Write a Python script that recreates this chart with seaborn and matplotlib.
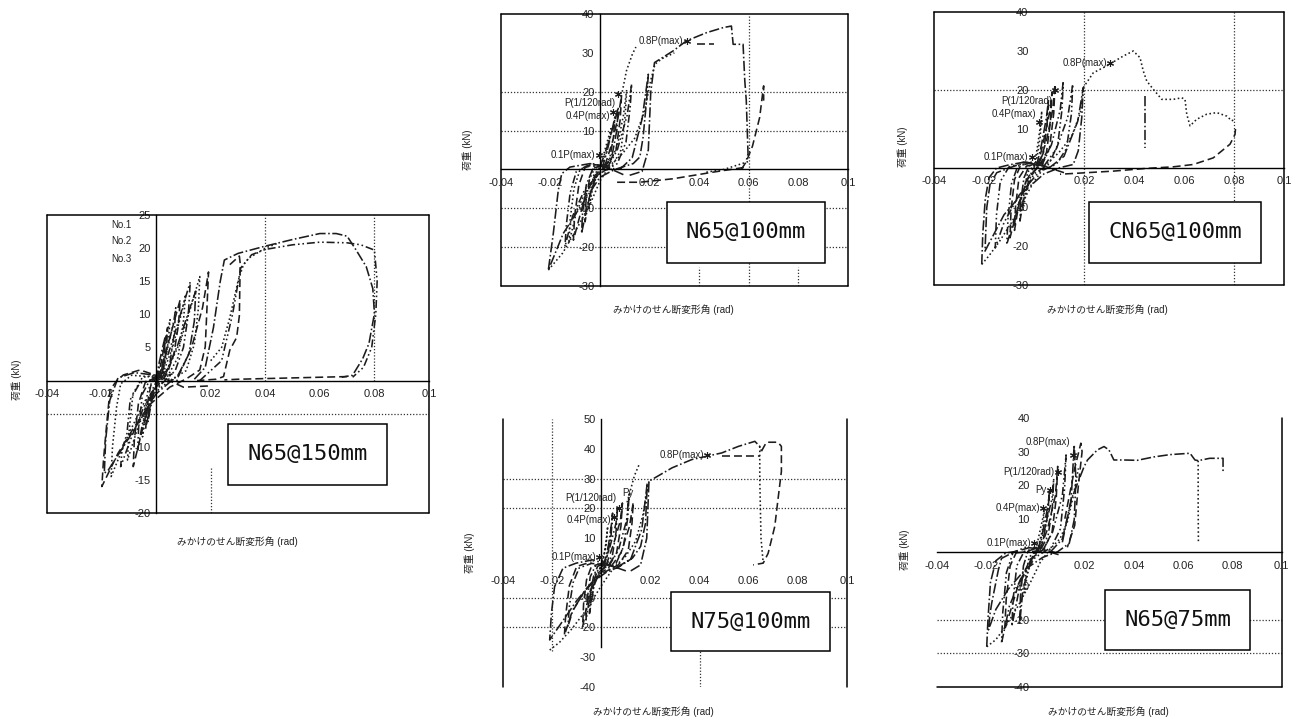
import matplotlib
matplotlib.use("Agg")
import matplotlib.pyplot as plt
from matplotlib.patches import Rectangle
from matplotlib.lines import Line2D
import seaborn as sns

sns.set_style("white")
plt.rcParams["font.family"] = ["Liberation Sans", "Noto Sans CJK JP"]

# ---------------- data: hysteresis curves (shear angle rad, load kN) ----------------
# N65@150mm
N150_X = [
    [0, 0.001, 0.0025, 0.0033, 0.003, 0.002, 0.0, -0.0015, -0.0025, -0.003, -0.0025, -0.001, 0.001],
    [0, 0.002, 0.004, 0.0051, 0.0045, 0.003, 0.001, -0.002, -0.004, -0.005, -0.0045, -0.003, -0.001, 0.001, 0.003],
    [0.001, 0.004, 0.007, 0.0088, 0.0082, 0.0065, 0.004, 0.0, -0.003, -0.006, -0.0084, -0.008, -0.0065, -0.004, 0.0, 0.004],
    [0.002, 0.006, 0.010, 0.0125, 0.0118, 0.010, 0.007, 0.002, -0.004, -0.009, -0.013, -0.0125, -0.0107, -0.0095, -0.006, 0.0, 0.006],
    [0.004, 0.009, 0.013, 0.016, 0.0155, 0.014, 0.011, 0.005, -0.004, -0.010, -0.0165, -0.016, -0.0145, -0.013, -0.009, 0.0, 0.008],
    [0.008, 0.013, 0.017, 0.0192, 0.0186, 0.018, 0.016, 0.0112, 0.005, -0.002, -0.008, -0.014, -0.0199, -0.0193, -0.018, -0.0169, -0.0144, -0.012, -0.0059, 0.002, 0.01, 0.02],
    [0.003, 0.008, 0.012, 0.0145, 0.014, 0.012, 0.008, 0.0, -0.006, -0.012, -0.0175, -0.019, -0.0185, -0.017, -0.014, -0.008, 0.0],
    [0.0005, 0.002, 0.0035, 0.0042, 0.0038, 0.0025, 0.0005, -0.0015, -0.003, -0.0038, -0.0034, -0.002, 0.0],
    [0.001, 0.004, 0.0065, 0.0072, 0.0066, 0.005, 0.002, -0.002, -0.005, -0.0068, -0.0064, -0.005, -0.002, 0.001],
    [0.002, 0.006, 0.0095, 0.0108, 0.010, 0.008, 0.004, -0.002, -0.007, -0.0105, -0.010, -0.0085, -0.005, 0.0],
    [0.016, 0.024, 0.028, 0.031, 0.035, 0.04, 0.05, 0.06, 0.07, 0.075, 0.080, 0.081, 0.0805, 0.079, 0.076, 0.072],
    [0.014, 0.018, 0.021, 0.0235, 0.025, 0.03, 0.04, 0.05, 0.06, 0.066, 0.07, 0.0733, 0.077, 0.0794, 0.080, 0.078, 0.0757, 0.072, 0.068],
    [0.02, 0.024, 0.027, 0.03, 0.032, 0.034, 0.04, 0.045],
    [0.027, 0.0305, 0.0308, 0.0305, 0.0295, 0.027, 0.0247, 0.022, 0.015],
    [0.07, 0.06, 0.05, 0.04, 0.03, 0.025],
]
N150_Y = [
    [0, 2.5, 5.2, 6.6, 4.0, 1.5, -0.5, -3.0, -5.0, -6.2, -3.5, -1.0, 0.5],
    [0, 3.5, 7.0, 9.2, 6.0, 2.5, 0.3, -2.5, -6.0, -8.5, -5.5, -1.5, 0.2, 0.0, 1.5],
    [0.5, 5.0, 9.5, 12.2, 8.5, 4.0, 1.0, -1.0, -4.0, -9.0, -13.0, -9.0, -3.5, -0.3, 0.5, 1.5],
    [1.0, 6.0, 11.5, 14.9, 10.0, 5.0, 1.5, -0.5, -3.5, -8.5, -13.0, -10.5, -8.0, -2.9, -0.4, 0.3, 1.0],
    [1.5, 6.0, 11.5, 15.7, 11.0, 5.5, 1.5, 0.0, -3.0, -8.0, -14.5, -10.0, -4.0, -0.5, 0.8, 0.5, 0.0],
    [0.5, 5.0, 11.0, 16.4, 10.7, 5.1, 1.6, 0.3, -1.0, -3.5, -7.0, -11.0, -16.0, -12.0, -6.0, -1.4, 0.0, 0.85, 1.6, 0.5, -1.0, -0.8],
    [0.5, 5.5, 10.5, 13.5, 9.0, 4.0, 0.8, -2.0, -6.0, -10.0, -13.5, -14.0, -9.0, -3.0, 0.4, 1.2, 0.8],
    [0.3, 3.0, 6.5, 8.0, 5.0, 1.5, -0.3, -2.5, -5.5, -7.2, -4.0, -0.8, 0.4],
    [0.5, 4.5, 9.0, 11.0, 7.0, 2.5, 0.3, -2.0, -6.5, -10.5, -7.0, -2.0, 0.3, 0.8],
    [0.5, 5.0, 10.5, 13.0, 9.0, 3.5, 0.5, -2.0, -7.5, -12.0, -8.0, -2.0, 0.5, 0.8],
    [0.0, 3.0, 10.0, 17.0, 19.0, 19.8, 20.5, 20.9, 20.8, 20.5, 19.7, 15.0, 10.0, 5.0, 2.0, 0.5],
    [0.2, 2.0, 8.0, 15.0, 18.2, 19.2, 20.3, 21.3, 22.2, 22.2, 21.8, 19.7, 17.2, 13.9, 10.1, 5.6, 3.3, 0.8, 0.5],
    [3.0, 5.0, 9.5, 15.0, 17.5, 18.5, 20.0, 20.8],
    [17.5, 18.8, 17.7, 9.8, 6.5, 4.6, 0.6, 0.2, 0.0],
    [0.6, 0.5, 0.4, 0.3, 0.2, 0.1],
]
N150_LS = ["dd", "do", "da", "ddd", "do", "da", "dd", "da", "ddd", "do",
           "ddd", "dd", "do", "da", "da"]

# N65@100mm
N100_X = [
    [0, 0.002, 0.004, 0.0045, 0.003, 0.001, -0.001, -0.003, -0.0045, -0.004, -0.0025, 0.0, 0.002],
    [0.0, 0.003, 0.006, 0.0074, 0.0068, 0.005, 0.002, -0.002, -0.005, -0.0074, -0.007, -0.0055, -0.003, 0.001, 0.004],
    [0.002, 0.005, 0.0075, 0.0087, 0.0082, 0.0065, 0.003, -0.002, -0.006, -0.0107, -0.0102, -0.0085, -0.006, -0.002, 0.003],
    [0.003, 0.007, 0.011, 0.0128, 0.0122, 0.0105, 0.007, 0.0, -0.006, -0.011, -0.0141, -0.0135, -0.012, -0.0095, -0.005, 0.002, 0.008],
    [0.008, 0.013, 0.017, 0.0195, 0.0188, 0.0174, 0.0161, 0.0134, 0.006, 0.0, -0.008, -0.0148, -0.0208, -0.0188, -0.0168, -0.0154, -0.0121, -0.004, 0.003, 0.01],
    [-0.0208, -0.015, -0.01, -0.004, 0.0, 0.004, 0.009, 0.014, 0.018, 0.0205, 0.0222, 0.025, 0.03],
    [0.001, 0.003, 0.0052, 0.006, 0.0055, 0.004, 0.0015, -0.002, -0.0045, -0.006, -0.0056, -0.0042, -0.002, 0.001],
    [0.003, 0.007, 0.0095, 0.0108, 0.0102, 0.0085, 0.005, -0.001, -0.006, -0.0095, -0.0125, -0.012, -0.0105, -0.008, -0.003, 0.003],
    [0.012, 0.017, 0.0195, 0.0205, 0.022, 0.0295, 0.0349, 0.043, 0.0497, 0.053, 0.0537, 0.0577, 0.0584, 0.059, 0.0597, 0.059],
    [0.057, 0.059, 0.0615, 0.0644, 0.0658, 0.066, 0.066],
    [0.058, 0.0456, 0.0295, 0.016, 0.0054],
    [0.0597, 0.05, 0.042],
    [0.009, 0.0107, 0.0131, 0.0145],
    [0.039, 0.046],
]
N100_Y = [
    [0, 5, 9.5, 10.5, 5, 1.5, -1, -5, -10.5, -6, -1.5, 0.5, 1],
    [0.5, 6.0, 12.5, 16.0, 10.0, 4.0, 0.5, -2.0, -9.0, -16.5, -11.0, -4.0, 0.0, 1.0, 2.0],
    [1.0, 7.0, 14.0, 19.0, 13.0, 5.0, 1.0, -1.5, -7.0, -18.2, -12.0, -4.0, 0.5, 1.2, 1.0],
    [0.5, 5.0, 14.0, 22.0, 16.0, 7.0, 1.5, -1.0, -5.0, -12.0, -19.9, -14.0, -6.0, -0.5, 1.0, 0.5, 0.0],
    [0.0, 3.0, 13.0, 24.5, 17.7, 8.3, 3.2, 1.5, 0.0, -2.0, -9.7, -16.5, -25.9, -16.5, -5.4, -1.1, 0.6, 1.5, 0.5, -1.5],
    [-25.9, -21.5, -16.0, -9.0, -3.0, 1.0, 4.0, 8.0, 15.0, 23.0, 27.1, 28.5, 30.0],
    [0.5, 5.0, 11.0, 13.5, 8.5, 3.0, 0.5, -2.5, -8.0, -13.5, -8.0, -2.5, 0.5, 1.0],
    [0.5, 6.0, 14.0, 20.5, 14.0, 5.0, 1.0, -1.5, -6.0, -11.0, -19.0, -13.0, -5.0, 0.0, 1.5, 0.5],
    [-1.5, -0.5, 5.0, 20.0, 27.5, 30.5, 33.1, 35.2, 36.5, 36.9, 32.2, 32.2, 22.8, 17.7, 4.0, 2.3],
    [0.0, 2.0, 6.0, 13.4, 20.7, 21.5, 17.7],
    [0.5, -0.7, -2.4, -3.3, -3.3],
    [2.0, 0.0, -0.8],
    [20.0, 25.4, 29.7, 31.5],
    [32.2, 32.2],
]
N100_LS = ["do", "dd", "da", "ddd", "dd", "do", "ddd", "do", "dd", "da", "da", "do", "do", "da"]

# CN65@100mm
CN100_X = [
    [0, 0.0015, 0.0028, 0.0031, 0.0025, 0.001, -0.001, -0.003, -0.0045, -0.004, -0.0025, 0.0, 0.002],
    [0.001, 0.003, 0.005, 0.0058, 0.0052, 0.0038, 0.0015, -0.002, -0.0045, -0.0056, -0.0052, -0.004, -0.002, 0.001, 0.004],
    [0.002, 0.005, 0.0075, 0.0084, 0.0079, 0.0062, 0.003, -0.002, -0.006, -0.0096, -0.0092, -0.0078, -0.0055, -0.001, 0.004],
    [0.003, 0.007, 0.0105, 0.0117, 0.0112, 0.0095, 0.006, 0.0, -0.006, -0.0109, -0.0104, -0.009, -0.0065, -0.002, 0.005],
    [0.006, 0.012, 0.0175, 0.0197, 0.0191, 0.0177, 0.0157, 0.0104, 0.004, -0.004, -0.012, -0.0196, -0.0189, -0.0176, -0.0149, -0.0096, -0.003, 0.004, 0.012],
    [-0.0209, -0.018, -0.014, -0.009, -0.004, 0.0, 0.005, 0.01, 0.015, 0.0185, 0.0197],
    [-0.0209, -0.0205, -0.0195, -0.018, -0.015, -0.01, -0.004],
    [0.0015, 0.0035, 0.0065, 0.0072, 0.0066, 0.005, 0.002, -0.003, -0.006, -0.0078, -0.0074, -0.006, -0.003, 0.001],
    [0.004, 0.009, 0.0135, 0.0155, 0.015, 0.013, 0.009, 0.002, -0.006, -0.012, -0.0155, -0.015, -0.0135, -0.01, -0.004, 0.004],
    [0.0197, 0.0237, 0.0291, 0.0357, 0.0397, 0.0424, 0.0437, 0.0451, 0.0477, 0.0511, 0.0557, 0.0591, 0.0604, 0.0611, 0.0624, 0.0651, 0.0691, 0.0731, 0.0771, 0.0791, 0.0804],
    [0.0806, 0.0804, 0.0784, 0.0717, 0.0637, 0.0557, 0.045, 0.0317, 0.0211, 0.0104],
    [0.0444, 0.0444],
]
CN100_Y = [
    [0, 6.0, 12.0, 14.6, 8.0, 2.0, -1.0, -6.0, -11.0, -6.0, -1.0, 0.5, 1.0],
    [0.5, 6.0, 13.0, 17.5, 11.0, 4.0, 0.5, -3.0, -9.0, -13.6, -8.0, -2.5, 0.5, 1.0, 1.5],
    [1.0, 7.0, 15.0, 21.5, 14.0, 5.0, 1.0, -2.0, -9.0, -17.9, -11.0, -3.0, 0.5, 1.5, 1.0],
    [0.5, 6.0, 15.0, 22.3, 15.0, 6.0, 1.0, -1.5, -9.0, -19.6, -13.0, -4.0, 0.5, 1.2, 0.5],
    [0.0, 3.0, 12.0, 20.6, 12.9, 4.4, 0.9, 0.1, -1.5, -6.0, -12.0, -21.3, -10.2, -4.2, -1.2, 0.1, 1.5, 0.5, -1.2],
    [-24.7, -22.5, -19.0, -14.0, -8.0, -3.5, 1.0, 4.0, 8.0, 14.0, 20.0],
    [-24.7, -17.0, -8.0, -2.5, 0.0, 0.8, 1.5],
    [0.5, 6.0, 15.0, 19.5, 12.0, 4.0, 0.5, -3.0, -9.0, -16.0, -10.0, -2.5, 0.5, 1.0],
    [0.5, 5.0, 13.0, 21.5, 14.0, 5.0, 1.0, -1.0, -7.0, -14.0, -20.5, -12.0, -3.5, 0.3, 1.5, 0.5],
    [20.6, 24.4, 26.2, 28.7, 30.0, 28.3, 24.9, 22.3, 20.2, 17.6, 17.6, 18.0, 17.6, 13.8, 10.8, 12.5, 13.8, 14.2, 13.3, 12.1, 12.5],
    [10.0, 8.6, 6.1, 2.6, 0.9, 0.3, -0.1, -0.8, -1.2, -1.6],
    [18.5, 5.2],
]
CN100_LS = ["do", "dd", "da", "ddd", "dd", "do", "dd", "da", "ddd", "do", "da", "dd"]

# N75@100mm
N75_X = [
    [0, 0.0015, 0.0024, 0.0026, 0.002, 0.0005, -0.001, -0.003, -0.0045, -0.004, -0.0025, 0.0, 0.002],
    [0.001, 0.003, 0.0042, 0.0046, 0.004, 0.0025, 0.0, -0.003, -0.0048, -0.0045, -0.0032, -0.0015, 0.001, 0.003],
    [0.002, 0.005, 0.0078, 0.0086, 0.008, 0.0062, 0.003, -0.002, -0.005, -0.0076, -0.0072, -0.006, -0.004, 0.0, 0.004],
    [0.003, 0.007, 0.0103, 0.0113, 0.0108, 0.009, 0.006, 0.0, -0.006, -0.0115, -0.0136, -0.013, -0.0115, -0.009, -0.004, 0.002, 0.007],
    [0.006, 0.012, 0.0165, 0.0187, 0.018, 0.016, 0.0127, 0.0073, 0.002, -0.004, -0.01, -0.015, -0.021, -0.0203, -0.019, -0.0156, -0.0102, -0.0035, 0.003, 0.01],
    [-0.021, -0.017, -0.012, -0.006, 0.0, 0.005, 0.01, 0.014, 0.017, 0.0194],
    [0.004, 0.008, 0.0115, 0.013, 0.0125, 0.011, 0.007, 0.0, -0.007, -0.012, -0.015, -0.0145, -0.013, -0.01, -0.004],
    [0.001, 0.0035, 0.006, 0.0066, 0.006, 0.0045, 0.0015, -0.002, -0.0045, -0.0062, -0.0058, -0.0045, -0.0025, 0.001],
    [0.012, 0.016, 0.0185, 0.0194, 0.0288, 0.0369, 0.049, 0.0558, 0.0625, 0.0645, 0.0652],
    [0.0645, 0.0645, 0.065, 0.0659],
    [0.0652, 0.0672, 0.0719, 0.0733, 0.0733, 0.0719, 0.0706, 0.0679, 0.0659, 0.0618],
    [0.049, 0.0645],
    [0.0105, 0.0135, 0.0154],
]
N75_Y = [
    [-1.0, 6.0, 12.0, 13.9, 8.0, 2.0, -1.0, -6.0, -12.0, -7.0, -2.0, 0.5, 1.0],
    [0.5, 8.0, 15.0, 18.4, 11.0, 4.0, 0.0, -6.0, -15.3, -9.0, -3.0, 0.5, 1.5, 1.0],
    [1.0, 8.0, 16.0, 21.8, 14.0, 5.0, 1.0, -2.0, -9.0, -19.8, -12.0, -4.0, 0.5, 1.5, 1.0],
    [0.5, 6.0, 16.0, 24.6, 17.0, 7.0, 1.5, -1.5, -7.0, -14.0, -19.8, -13.0, -5.0, 0.0, 1.5, 1.0, 0.0],
    [0.0, 3.0, 13.0, 28.5, 15.0, 7.2, 3.3, 0.4, -1.5, -5.0, -11.0, -17.0, -24.2, -15.3, -6.3, -0.1, 1.6, 2.7, 1.0, -1.0],
    [-27.6, -25.0, -20.5, -14.0, -6.0, 0.0, 4.0, 9.0, 18.0, 29.1],
    [0.5, 5.0, 14.0, 22.0, 15.0, 6.0, 1.0, -2.0, -8.0, -15.0, -22.6, -16.0, -6.0, 0.5, 2.0],
    [0.5, 7.0, 15.0, 20.0, 12.0, 4.0, 0.5, -3.0, -9.0, -17.5, -11.0, -3.0, 0.5, 1.2],
    [-1.0, 1.0, 10.0, 29.1, 33.6, 36.4, 38.6, 40.8, 42.5, 40.8, 39.2],
    [40.8, 30.0, 10.0, 1.6],
    [39.2, 42.2, 42.2, 40.8, 32.4, 22.9, 13.9, 4.9, 1.6, 1.0],
    [37.5, 37.5],
    [22.0, 31.0, 34.7],
]
N75_LS = ["do", "dd", "da", "ddd", "dd", "do", "da", "ddd", "dd", "do", "da", "da", "do"]

# N65@75mm
N75MM_X = [
    [0, 0.0015, 0.0033, 0.0037, 0.003, 0.0012, -0.001, -0.003, -0.0045, -0.004, -0.0025, 0.0, 0.002],
    [0.001, 0.003, 0.0052, 0.0058, 0.005, 0.0033, 0.001, -0.002, -0.005, -0.0063, -0.006, -0.0048, -0.003, 0.0, 0.003],
    [0.002, 0.005, 0.0082, 0.0091, 0.0085, 0.0068, 0.0035, -0.002, -0.007, -0.0124, -0.0118, -0.0102, -0.0075, -0.002, 0.004],
    [0.003, 0.007, 0.011, 0.0125, 0.0119, 0.0102, 0.0065, 0.0, -0.006, -0.0105, -0.0137, -0.0132, -0.0117, -0.009, -0.004, 0.002, 0.008],
    [0.006, 0.011, 0.0145, 0.0158, 0.0165, 0.0158, 0.0138, 0.0091, 0.003, -0.004, -0.011, -0.016, -0.019, -0.0185, -0.0177, -0.015, -0.0137, -0.0097, -0.003, 0.004, 0.01],
    [-0.0197, -0.016, -0.012, -0.007, -0.002, 0.002, 0.006, 0.01, 0.013, 0.0155, 0.0175],
    [0.001, 0.0035, 0.0068, 0.0075, 0.0069, 0.0052, 0.002, -0.002, -0.006, -0.0095, -0.009, -0.0075, -0.0045, 0.0],
    [0.011, 0.0145, 0.0198, 0.0212, 0.0252, 0.0279, 0.0299, 0.0319, 0.036, 0.0414, 0.048, 0.0547, 0.0628, 0.0648, 0.0661, 0.0708, 0.0762, 0.0762],
    [0.0661, 0.0661, 0.0662],
    [0.012, 0.016, 0.0185, 0.019, 0.0175, 0.016, 0.013],
    [-0.0197, -0.0192, -0.0182, -0.016, -0.012, -0.006],
]
N75MM_Y = [
    [0, 5.0, 11.0, 12.6, 7.0, 1.5, -1.0, -6.0, -12.0, -7.0, -1.5, 0.5, 1.0],
    [0.5, 6.0, 14.0, 18.6, 11.0, 4.0, 0.5, -3.0, -11.0, -21.1, -13.0, -4.0, 0.3, 1.2, 1.0],
    [1.0, 7.0, 17.0, 25.6, 16.0, 6.0, 1.0, -2.0, -10.0, -23.1, -14.0, -4.0, 0.3, 1.5, 1.0],
    [0.5, 6.0, 17.0, 29.0, 19.0, 7.0, 1.5, -1.5, -8.0, -16.0, -27.1, -18.0, -6.0, 0.0, 1.5, 1.0, 0.0],
    [0.0, 4.0, 15.0, 32.0, 21.6, 9.7, 2.7, 0.2, -1.5, -5.0, -11.0, -17.0, -23.1, -19.0, -15.2, -5.3, -1.8, -0.3, 0.2, 0.5, -0.8],
    [-28.1, -26.0, -22.0, -16.0, -9.0, -3.0, 1.0, 4.0, 9.0, 17.0, 25.0],
    [0.5, 6.0, 16.0, 22.0, 13.0, 5.0, 0.5, -2.5, -9.0, -22.0, -14.0, -4.0, 0.3, 1.2],
    [3.0, 15.6, 25.5, 27.5, 30.5, 31.5, 30.5, 27.5, 27.5, 27.4, 28.4, 29.1, 29.5, 27.5, 27.3, 28.0, 28.0, 24.2],
    [27.3, 14.0, 2.7],
    [10.0, 25.0, 32.5, 30.0, 20.0, 8.0, 1.5],
    [-28.1, -20.0, -9.0, -2.5, -0.2, 0.5],
]
N75MM_LS = ["do", "dd", "da", "ddd", "dd", "do", "ddd", "dd", "do", "da", "dd"]

# load level marks: label, mark position, label height
N100_MARK_TXT = ["0.8P(max)", "P(1/120rad)", "0.4P(max)", "0.1P(max)"]
N100_MARK_X = [0.0349, 0.0074, 0.0054, -0.0005]
N100_MARK_Y = [33.1, 19.4, 14.9, 3.6]
N100_TXT_Y = [33.1, 17.2, 13.8, 3.6]
CN100_MARK_TXT = ["0.8P(max)", "P(1/120rad)", "0.4P(max)", "0.1P(max)"]
CN100_MARK_X = [0.0305, 0.0085, 0.002, -0.001]
CN100_MARK_Y = [26.8, 20.0, 11.9, 2.8]
CN100_TXT_Y = [26.8, 17.2, 13.8, 2.8]
N75_MARK_TXT = ["0.8P(max)", "P(1/120rad)", "0.4P(max)", "0.1P(max)"]
N75_MARK_X = [0.043, 0.0073, 0.0053, -0.001]
N75_MARK_Y = [37.8, 20.1, 17.0, 3.8]
N75_TXT_Y = [37.8, 23.6, 16.2, 3.8]
N75MM_MARK_TXT = ["0.8P(max)", "P(1/120rad)", "Py", "0.4P(max)", "0.1P(max)"]
N75MM_MARK_X = [0.0152, 0.0091, 0.0058, 0.0031, -0.0005]
N75MM_MARK_Y = [29.0, 24.0, 18.6, 13.1, 2.7]
N75MM_TXT_Y = [33.0, 24.0, 18.6, 13.1, 2.7]

X_TICKS = [-0.04, -0.02, 0.02, 0.04, 0.06, 0.08, 0.1]
X_TICK_LABELS = ["-0.04", "-0.02", "0.02", "0.04", "0.06", "0.08", "0.1"]

XLABEL = "みかけのせん断変形角 (rad)"
YLABEL = "荷重 (kN)"

LINESTYLES = {
    "dd": "-.",
    "da": (0, (5, 2.5)),
    "do": (0, (1, 1.6)),
    "ddd": (0, (5, 1.8, 1, 1.8, 1, 1.8)),
}
INK = "#1c1c1c"

fig = plt.figure(figsize=(12.99, 7.2), dpi=100)
W, H = 1299.0, 720.0


def px_axes(x0, y0, x1, y1):
    return fig.add_axes([x0 / W, 1 - y1 / H, (x1 - x0) / W, (y1 - y0) / H])


def setup(ax, ylim, yticks, frame, xaxis=True, yaxis=True, ybounds=None):
    ax.set_xlim(-0.04, 0.1)
    ax.set_ylim(*ylim)
    ax.set_facecolor("none")
    for s in ("top", "right"):
        ax.spines[s].set_visible(False)
    ax.spines["left"].set_position(("data", 0))
    ax.spines["bottom"].set_position(("data", 0))
    for s in ("left", "bottom"):
        ax.spines[s].set_linewidth(1.0)
        ax.spines[s].set_color("black")
        ax.spines[s].set_zorder(4)
    ax.spines["bottom"].set_visible(xaxis)
    ax.spines["left"].set_visible(yaxis)
    if ybounds is not None:
        ax.spines["left"].set_bounds(*ybounds)
    ax.set_xticks(X_TICKS)
    ax.set_xticklabels(X_TICK_LABELS)
    ax.set_yticks(yticks)
    ax.set_yticklabels([str(v) for v in yticks])
    ax.tick_params(axis="x", length=0, pad=6, labelsize=8, colors="#222")
    ax.tick_params(axis="y", length=2.5, width=0.8, pad=1.5, labelsize=8, colors="#222")
    ax.set_xlabel("")
    ax.set_ylabel("")
    edges = {
        "L": ([0, 0], [0, 1]),
        "R": ([1, 1], [0, 1]),
        "T": ([0, 1], [1, 1]),
        "B": ([0, 1], [0, 0]),
    }
    for e in frame:
        xs, ys = edges[e]
        ax.add_line(Line2D(xs, ys, transform=ax.transAxes, color="black",
                           lw=1.1, clip_on=False, zorder=4))


def draw_curves(ax, xs_list, ys_list, styles):
    for xs, ys, st in zip(xs_list, ys_list, styles):
        sns.lineplot(x=xs, y=ys, sort=False, estimator=None, ax=ax,
                     color=INK, lw=1.15, linestyle=LINESTYLES[st], zorder=3)
    ax.set_xlabel("")
    ax.set_ylabel("")


def grid(ax, hlines=(), vlines=()):
    for y, x0, x1 in hlines:
        ax.hlines(y, x0, x1, colors="#333", linestyles=(0, (1, 1.5)), lw=0.9, zorder=1)
    for x, y0, y1 in vlines:
        ax.vlines(x, y0, y1, colors="#333", linestyles=(0, (1, 1.5)), lw=0.9, zorder=1)


def marks(ax, txts, xs, ys, tys):
    ax.plot(xs, ys, ls="none", marker=(6, 2, 0), ms=5, mew=0.8, color=INK, zorder=6)
    for t, x, ty in zip(txts, xs, tys):
        ax.text(x - 0.0012, ty, t, ha="right", va="center", fontsize=7, color="#222", zorder=6)


def label_box(ax, x0, y0, x1, y1, text):
    ax.add_patch(Rectangle((x0, y0), x1 - x0, y1 - y0, transform=ax.transAxes,
                           facecolor="white", edgecolor="black", lw=1.1, zorder=7))
    ax.text((x0 + x1) / 2, (y0 + y1) / 2, text, transform=ax.transAxes,
            ha="center", va="center", fontsize=16, family="DejaVu Sans Mono",
            color="#111", zorder=8)


def axis_labels(xl, yl):
    fig.text(xl[0] / W, 1 - xl[1] / H, XLABEL, ha="center", va="center", fontsize=7, color="#222")
    fig.text(yl[0] / W, 1 - yl[1] / H, YLABEL, ha="center", va="center", fontsize=7,
             rotation=90, color="#222")


# ---- N65@150mm ----
ax1 = px_axes(47, 215, 429, 513)
setup(ax1, (-20, 25), [-20, -15, -10, -5, 5, 10, 15, 20, 25], "LRTB")
grid(ax1, hlines=[(-5, -0.04, 0.1)], vlines=[(0.04, 0, 25), (0.08, 0, 25), (0.02, -20, -13)])
draw_curves(ax1, N150_X, N150_Y, N150_LS)
for t, yy in zip(["No.1", "No.2", "No.3"], [23.5, 21.0, 18.4]):
    ax1.text(-0.0165, yy, t, fontsize=7, va="center", ha="left", color="#222")
label_box(ax1, 0.474, 0.094, 0.890, 0.299, "N65@150mm")
axis_labels((237, 542), (17, 380))

# ---- N65@100mm ----
ax2 = px_axes(500.7, 14, 848, 286)
setup(ax2, (-30, 40), [-30, -20, -10, 10, 20, 30, 40], "LRTB")
grid(ax2, hlines=[(20, -0.04, 0.1), (10, -0.04, 0.1), (-10, -0.04, 0.1), (-20, -0.04, 0.1)],
     vlines=[(0.06, -30, 40), (0.04, -30, -25), (0.08, -30, -25)])
draw_curves(ax2, N100_X, N100_Y, N100_LS)
marks(ax2, N100_MARK_TXT, N100_MARK_X, N100_MARK_Y, N100_TXT_Y)
label_box(ax2, 0.479, 0.085, 0.934, 0.309, "N65@100mm")
axis_labels((673, 310), (468, 150))

# ---- CN65@100mm ----
ax3 = px_axes(934, 12, 1284, 285)
setup(ax3, (-30, 40), [-30, -20, -10, 10, 20, 30, 40], "LRTB", yaxis=False)
grid(ax3, hlines=[(20, -0.04, 0.1)], vlines=[(0.02, -30, 40), (0.08, -30, 40)])
draw_curves(ax3, CN100_X, CN100_Y, CN100_LS)
marks(ax3, CN100_MARK_TXT, CN100_MARK_X, CN100_MARK_Y, CN100_TXT_Y)
label_box(ax3, 0.443, 0.081, 0.934, 0.304, "CN65@100mm")
axis_labels((1107, 310), (903, 147))

# ---- N75@100mm ----
ax4 = px_axes(503, 419, 847, 687)
setup(ax4, (-40, 50), [-40, -30, -20, -10, 10, 20, 30, 40, 50], "LR",
      xaxis=False, ybounds=(-26.5, 50))
grid(ax4, hlines=[(30, -0.04, 0.1), (20, -0.04, 0.1), (-10, -0.04, 0.1), (-20, -0.04, 0.1)],
     vlines=[(-0.02, -28, 50), (0.04, -40, -28)])
draw_curves(ax4, N75_X, N75_Y, N75_LS)
marks(ax4, N75_MARK_TXT, N75_MARK_X, N75_MARK_Y, N75_TXT_Y)
ax4.text(0.0085, 25.0, "Py", fontsize=7, ha="left", va="center", color="#222")
label_box(ax4, 0.488, 0.134, 0.951, 0.354, "N75@100mm")
axis_labels((653, 712), (470, 553))

# ---- N65@75mm ----
ax5 = px_axes(936.7, 418, 1281.7, 686.7)
setup(ax5, (-40, 40), [-40, -30, -20, -10, 10, 20, 30, 40], "RB", yaxis=False)
grid(ax5, hlines=[(-20, -0.04, 0.1), (-30, -0.04, 0.1)])
draw_curves(ax5, N75MM_X, N75MM_Y, N75MM_LS)
marks(ax5, N75MM_MARK_TXT, N75MM_MARK_X, N75MM_MARK_Y, N75MM_TXT_Y)
label_box(ax5, 0.488, 0.137, 0.908, 0.360, "N65@75mm")
axis_labels((1108, 712), (905, 550))

fig.savefig("out.png", dpi=100, facecolor="white")
